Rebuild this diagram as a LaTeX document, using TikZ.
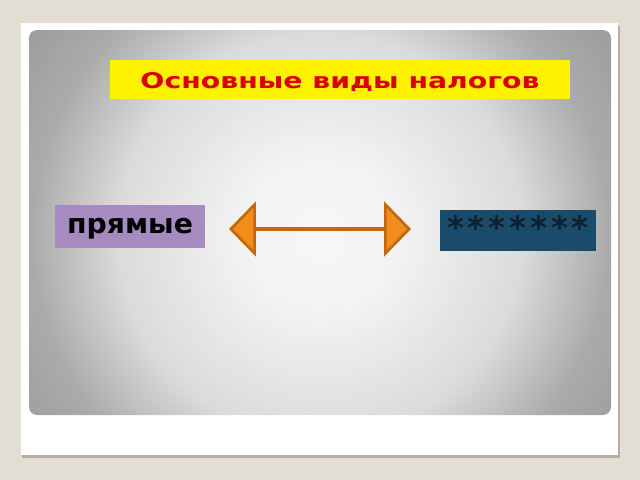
\documentclass[tikz,border=0pt]{standalone}
\usepackage{fontspec}
\newfontfamily\titlefont[FakeStretch=1.31]{DejaVu Sans}
\newfontfamily\kindfont[FakeStretch=1.04]{DejaVu Sans}
\newfontfamily\starfont[LetterSpace=12]{DejaVu Sans}
\usetikzlibrary{arrows.meta}
\definecolor{slidebg}{HTML}{E3DED3}
\definecolor{slideshadow}{HTML}{B4AFA6}
\definecolor{titlered}{HTML}{D80000}
\definecolor{kindpurple}{HTML}{A68BC1}
\definecolor{kindblue}{HTML}{1B4B6B}
\definecolor{stardark}{HTML}{0E2030}
\definecolor{arrowfill}{HTML}{F28C1C}
\definecolor{arrowline}{HTML}{C4680E}
\pgfdeclareradialshading{panelshade}{\pgfpoint{0bp}{0bp}}{%
color(0bp)=(white!97!black); color(5.5bp)=(white!95!black);
color(14bp)=(white!86!black); color(20bp)=(white!67!black);
color(25bp)=(white!61!black); color(50bp)=(white!61!black)}
\tikzset{
title box/.style={fill=yellow,inner sep=0pt,minimum width=9.2cm,
  text height=0.58cm,text depth=0.2cm,text=titlered,
  font=\titlefont\bfseries\fontsize{12.3}{14}\selectfont},
kind box/.style={inner sep=0pt,minimum width=#1},
dvustor/.style={{Triangle[width=1.1cm,length=0.54cm,fill=arrowfill,line width=1.5pt]}-{Triangle[width=1.1cm,length=0.54cm,fill=arrowfill,line width=1.5pt]},
  draw=arrowline,line width=2.5pt}}

\begin{document}
\begin{tikzpicture}[x=0.02cm,y=-0.02cm]

\useasboundingbox (0,0) rectangle (640,480);
\fill[slidebg] (0,0) rectangle (640,480);
\fill[slideshadow] (22,26) rectangle (620,458);
\fill[white] (21,23) rectangle (618,455);
\begin{scope}
\clip[rounded corners=0.16cm] (29,30) rectangle (611,415);
\shade[shading=panelshade] (320,235) circle (360);
\end{scope}

\node[title box] (zagolovok) at (340,79.5) {Основные виды налогов};
\node[kind box=3cm,fill=kindpurple,text height=0.56cm,text depth=0.3cm,
  font=\kindfont\bfseries\fontsize{15.5}{18}\selectfont] (pryamye) at (130,226.5) {прямые};
\node[kind box=3.12cm,fill=kindblue,text=stardark,text height=0.6cm,text depth=0.22cm,
  font=\starfont\bfseries\fontsize{18.4}{21}\selectfont] (skryto) at (518,230.5) {*******};

\coordinate (levo) at (229,229);
\coordinate (pravo) at (411,229);
\draw[dvustor] (levo) -- (pravo);

\end{tikzpicture}
\end{document}
